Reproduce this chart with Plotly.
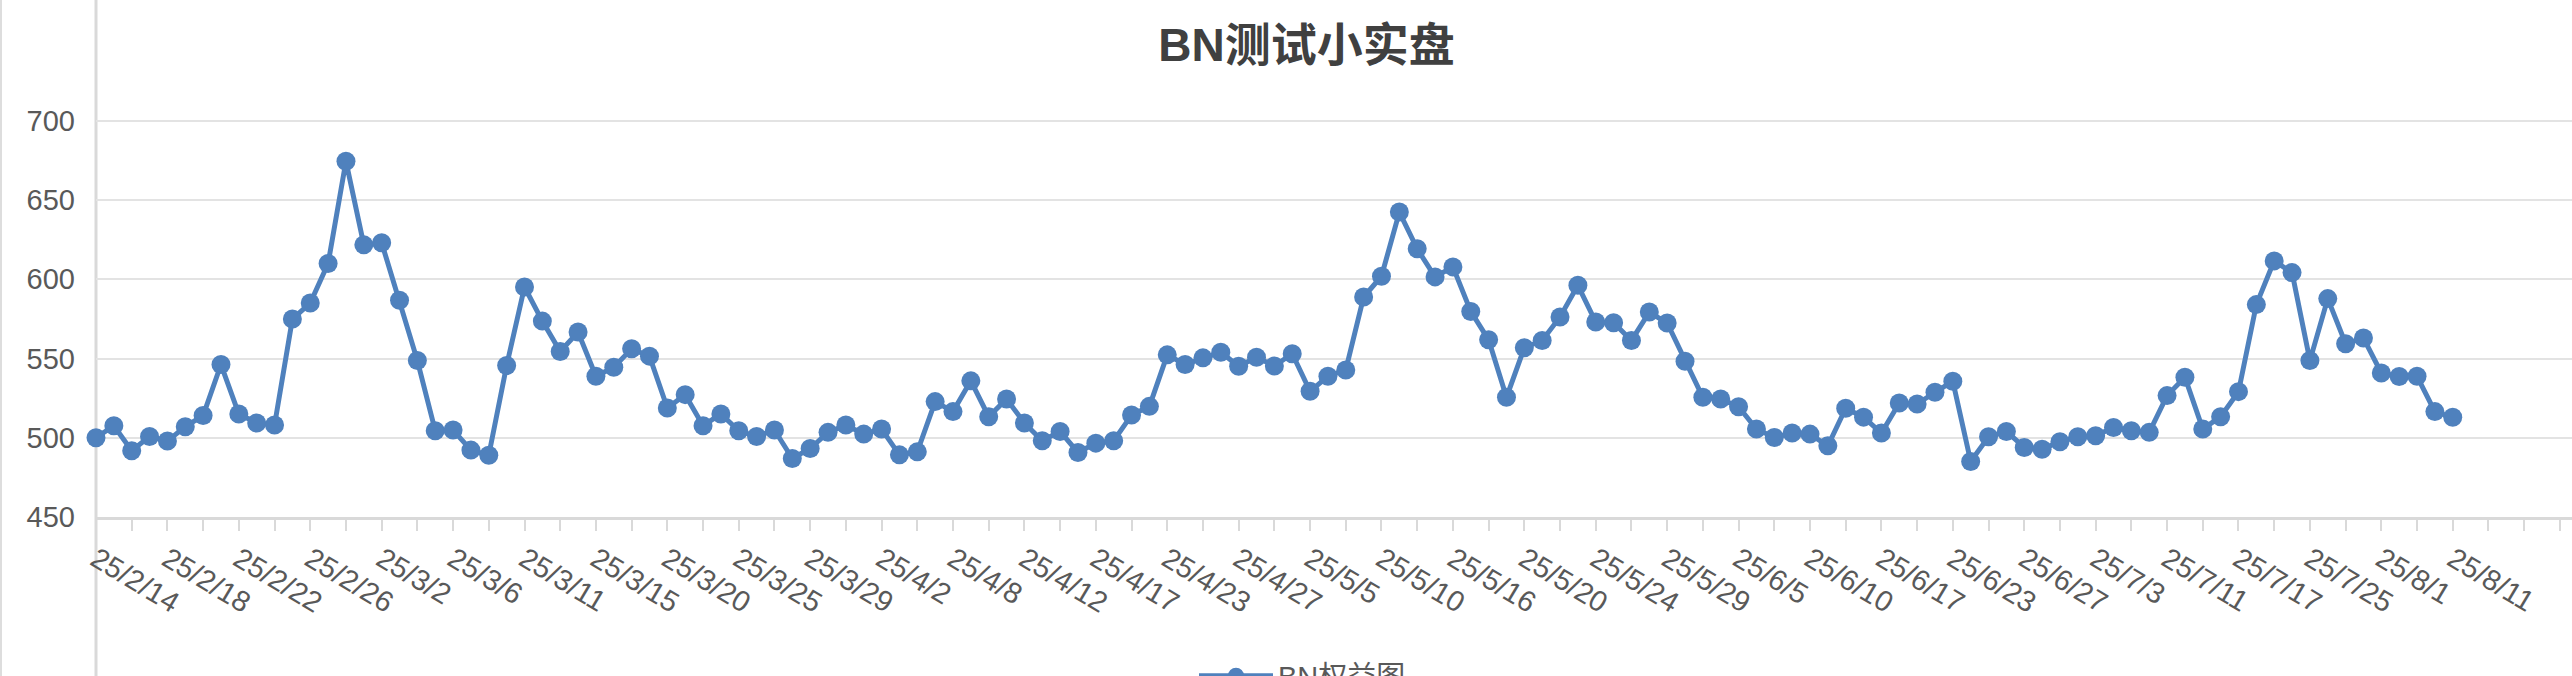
import plotly.graph_objects as go

# equity values, one per trading record
equity = [
    500, 507.6, 491.8, 500.8, 497.9, 507, 514, 546.2, 515, 509.3,
    508, 574.9, 585, 609.9, 674.5, 621.7, 623, 586.7, 548.7, 504.4,
    504.9, 492.2, 489, 545.6, 595.1, 573.6, 554.4, 566.7, 538.8, 544.5,
    556.1, 551.5, 518.8, 527.2, 507.6, 515, 504.4, 500.8, 504.9, 486.9,
    493.2, 503.4, 508, 502.3, 505.5, 489.2, 491.1, 522.8, 516.5, 535.9,
    513.3, 524.5, 509.3, 498.1, 504, 490.7, 496.6, 498.1, 514.3, 519.8,
    552.3, 546.2, 550.4, 554, 545.1, 550.8, 545.3, 553, 529.3, 538.8,
    542.8, 588.8, 601.9, 642.4, 619.2, 601.5, 607.8, 579.7, 561.8, 525.5,
    556.8, 561.4, 576.2, 596.2, 573, 572.6, 561.4, 579.3, 572.4, 548.3,
    525.5, 524.5, 519.6, 505.5, 500.2, 503, 502.3, 494.9, 518.6, 513,
    503, 521.9, 521.3, 528.7, 535.7, 485, 500.6, 504, 493.9, 492.8,
    497.5, 500.6, 501.3, 506.5, 504.4, 503.4, 526.6, 538.2, 505.5, 513.3,
    529.1, 584, 611.6, 604.2, 548.7, 587.8, 559.3, 562.9, 540.9, 538.6,
    538.8, 516.5, 512.9,
]

# date labels shown on the axis (every 4th record)
date_labels = [
    "25/2/14", "25/2/18", "25/2/22", "25/2/26", "25/3/2", "25/3/6", "25/3/11",
    "25/3/15", "25/3/20", "25/3/25", "25/3/29", "25/4/2", "25/4/8", "25/4/12",
    "25/4/17", "25/4/23", "25/4/27", "25/5/5", "25/5/10", "25/5/16", "25/5/20",
    "25/5/24", "25/5/29", "25/6/5", "25/6/10", "25/6/17", "25/6/23", "25/6/27",
    "25/7/3", "25/7/11", "25/7/17", "25/7/25", "25/8/1", "25/8/11",
]

y_ticks = [450, 500, 550, 600, 650, 700]

LABEL_STEP = 4
TICK_STEP = 2
BLUE = "#4F81BD"
AXIS_GRAY = "#D9D9D9"
TEXT_GRAY = "#595959"
FONT = "Liberation Sans, Arial, Noto Sans CJK SC, sans-serif"

x_idx = list(range(len(equity)))
tick_vals = list(range(0, 139, TICK_STEP))
tick_text = []
for t in tick_vals:
    if t % LABEL_STEP == 0 and t // LABEL_STEP < len(date_labels):
        tick_text.append(date_labels[t // LABEL_STEP])
    else:
        tick_text.append("")

fig = go.Figure()
fig.add_trace(go.Scatter(
    x=x_idx,
    y=equity,
    mode="lines+markers",
    name="BN权益图",
    line=dict(color=BLUE, width=5),
    marker=dict(color=BLUE, size=19),
    cliponaxis=False,
))

fig.update_layout(
    width=2572,
    height=676,
    paper_bgcolor="white",
    plot_bgcolor="white",
    font=dict(family=FONT, size=29, color=TEXT_GRAY),
    margin=dict(l=96, r=0, t=0, b=159.3, autoexpand=False),
    title=dict(
        text="<b>BN测试小实盘</b>",
        font=dict(family="Liberation Sans, Noto Sans CJK SC", size=46, color="#404040"),
        x=0.508,
        xanchor="center",
        y=1 - 45 / 676,
        yanchor="middle",
    ),
    showlegend=True,
    legend=dict(
        orientation="h",
        x=(1194 - 96) / 2476,
        xanchor="left",
        y=-0.258,
        yanchor="top",
        itemwidth=74,
        font=dict(size=29, color=TEXT_GRAY),
        bgcolor="rgba(0,0,0,0)",
    ),
)

fig.update_xaxes(
    range=[0, 138.68],
    tickmode="array",
    tickvals=tick_vals,
    ticktext=tick_text,
    tickangle=31,
    ticks="outside",
    ticklen=11,
    tickwidth=2,
    tickcolor=AXIS_GRAY,
    showgrid=False,
    zeroline=False,
    showline=True,
    linecolor=AXIS_GRAY,
    linewidth=3,
    tickfont=dict(size=29, color=TEXT_GRAY),
)
fig.update_yaxes(
    range=[450, 776.2],
    tickmode="array",
    tickvals=y_ticks,
    showgrid=True,
    gridcolor="#E3E3E3",
    gridwidth=2,
    zeroline=False,
    showline=False,
    ticks="",
    ticklabelstandoff=20,
    tickfont=dict(size=29, color=TEXT_GRAY),
)

# left axis line running the full height, plus the frame edge
fig.add_shape(type="line", xref="paper", yref="paper", x0=0, x1=0, y0=-0.31, y1=1.0,
              line=dict(color=AXIS_GRAY, width=3), layer="below")
fig.add_shape(type="line", xref="paper", yref="paper", x0=-95 / 2476, x1=-95 / 2476,
              y0=-0.31, y1=1.0, line=dict(color="#DDDDDD", width=2))

fig.write_html("out.html", config={"displayModeBar": False},
               post_script="document.body.style.margin='0';")
